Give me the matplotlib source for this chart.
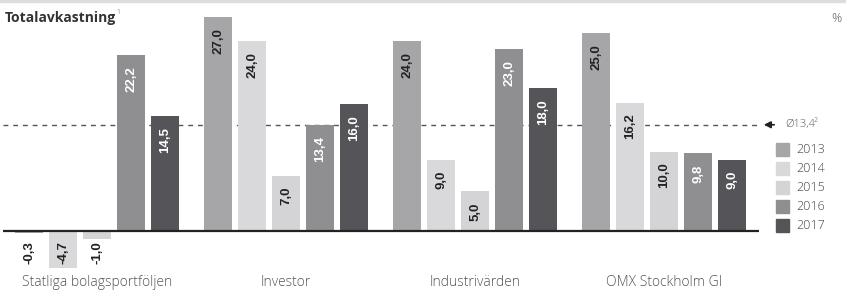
import matplotlib.pyplot as plt
from matplotlib.patches import Rectangle
import numpy as np

categories = ["Statliga bolagsportföljen", "Investor", "Industrivärden", "OMX Stockholm GI"]
years = ["2013", "2014", "2015", "2016", "2017"]
values = {
    "2013": [-0.3, 27.0, 24.0, 25.0],
    "2014": [-4.7, 24.0, 9.0, 16.2],
    "2015": [-1.0, 7.0, 5.0, 10.0],
    "2016": [22.2, 13.4, 23.0, 9.8],
    "2017": [14.5, 16.0, 18.0, 9.0],
}
average = 13.4

colors = ["#a6a6a9", "#d9d9db", "#d4d4d6", "#8f8f92", "#555559"]
text_colors = ["#222222", "#222222", "#222222", "white", "white"]

W, H = 846, 293
fig = plt.figure(figsize=(W / 100, H / 100), dpi=100)

# axes placed in pixel terms: x from 3 to 759, y from 9 to 279
ax = fig.add_axes([3 / W, (H - 279) / H, 756 / W, 270 / H])
ax.set_xlim(-2.765, 19.47)
ax.set_ylim(-6.05, 28.0)
ax.axis("off")

group_gap = 5.56
centers = np.arange(len(categories)) * group_gap
bar_w = 28 / 34

ax.axhline(average, color="#555555", lw=1, ls=(0, (3.5, 3.5)), zorder=1,
           xmin=0, xmax=(761 - 3) / 756)

for i, yr in enumerate(years):
    xs = centers + (i - 2)
    ax.bar(xs, values[yr], width=bar_w, color=colors[i], zorder=2)
    for x, v in zip(xs, values[yr]):
        lab = f"{v:.1f}".replace(".", ",")
        if v >= 0:
            ax.annotate(lab, (x, v), xytext=(0, -11), textcoords="offset pixels",
                        rotation=90, ha="center", va="top", fontsize=9.5,
                        fontweight="bold", family="Liberation Sans",
                        color=text_colors[i], zorder=3)
        else:
            ax.annotate(lab, (x, 0), xytext=(0, -10), textcoords="offset pixels",
                        rotation=90, ha="center", va="top", fontsize=9.5,
                        fontweight="bold", family="Liberation Sans",
                        color="#222222", zorder=3)

ax.axhline(0, color="#222222", lw=1.6, zorder=4)

for c, name in zip(centers, categories):
    ax.annotate(name, (c, 0), xytext=(0, -51), textcoords="offset pixels",
                ha="center", va="center", fontsize=10, family="Open Sans",
                fontweight="light", color="#555555")

# arrow to average
ax.annotate("", xy=((761 - 97) / 34, average),
            xytext=((777 - 97) / 34, average),
            arrowprops=dict(arrowstyle="-|>", color="#222222", lw=1.2,
                            mutation_scale=10), annotation_clip=False)
fig.text(785 / W, 1 - 125 / H, "Ø13,4", fontsize=8, family="Open Sans",
         fontweight="light", color="#555555", va="center", ha="left")
fig.text(814 / W, 1 - 121 / H, "2", fontsize=5, family="Open Sans",
         color="#888888", va="center", ha="left")

# legend
for i, yr in enumerate(years):
    yc = 149.5 + i * 19
    fig.patches.append(Rectangle((776 / W, 1 - (yc + 6.5) / H), 13 / W, 13 / H,
                                 transform=fig.transFigure, color=colors[i]))
    fig.text(796 / W, 1 - yc / H, yr, fontsize=9, family="Open Sans",
             fontweight="light", color="#444444", va="center", ha="left")

# header
fig.add_artist(plt.Line2D([0, 1], [1 - 1 / H, 1 - 1 / H], color="#dddddd", lw=2.5,
                          transform=fig.transFigure))
fig.text(5 / W, 1 - 18 / H, "Totalavkastning", fontsize=10, fontweight="bold",
         family="Open Sans", color="#333333", va="center", ha="left")
fig.text(116 / W, 1 - 13 / H, "1", fontsize=5, family="Open Sans",
         color="#999999", va="center", ha="left")
fig.text(841 / W, 1 - 18 / H, "%", fontsize=9, family="Open Sans",
         fontweight="light", color="#555555", va="center", ha="right")

fig.savefig("out.png", dpi=100)
